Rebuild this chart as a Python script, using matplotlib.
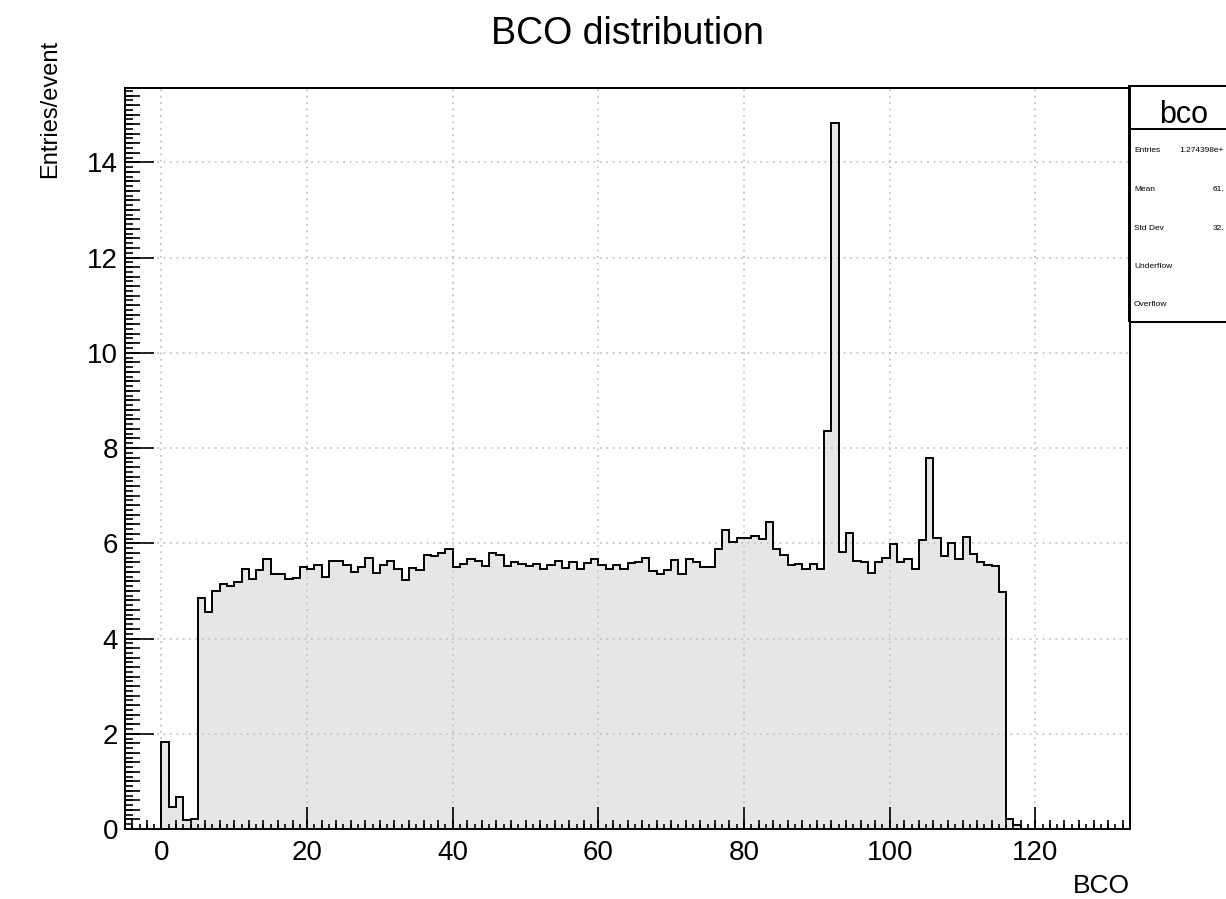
import numpy as np
import matplotlib
matplotlib.use("Agg")
import matplotlib.pyplot as plt
from matplotlib.patches import Rectangle
from matplotlib.lines import Line2D

plt.rcParams['font.family'] = ['Liberation Sans', 'DejaVu Sans']

# BCO histogram, one bin per BCO value (0..117)
bin_edges = np.arange(0, 119)
entries_per_event = [
    1.82, 0.47, 0.68, 0.19, 0.21, 4.85, 4.55, 4.99, 5.15, 5.10,
    5.19, 5.45, 5.26, 5.43, 5.68, 5.35, 5.35, 5.26, 5.28, 5.50,
    5.45, 5.55, 5.30, 5.62, 5.62, 5.55, 5.40, 5.50, 5.70, 5.38,
    5.55, 5.62, 5.45, 5.23, 5.49, 5.44, 5.76, 5.74, 5.79, 5.88,
    5.51, 5.56, 5.68, 5.62, 5.53, 5.79, 5.75, 5.53, 5.61, 5.56,
    5.52, 5.56, 5.45, 5.54, 5.63, 5.49, 5.60, 5.45, 5.58, 5.67,
    5.55, 5.47, 5.55, 5.45, 5.58, 5.60, 5.69, 5.41, 5.35, 5.43,
    5.65, 5.36, 5.66, 5.61, 5.50, 5.50, 5.87, 6.28, 6.03, 6.12,
    6.12, 6.15, 6.10, 6.45, 5.88, 5.75, 5.55, 5.57, 5.45, 5.56,
    5.45, 8.35, 14.82, 5.82, 6.21, 5.63, 5.61, 5.38, 5.60, 5.70,
    5.98, 5.60, 5.68, 5.46, 6.06, 7.79, 6.11, 5.74, 6.01, 5.68,
    6.14, 5.78, 5.61, 5.55, 5.53, 4.97, 0.22, 0.08,
]

x_ticks = [0, 20, 40, 60, 80, 100, 120]
y_ticks = [0, 2, 4, 6, 8, 10, 12, 14]

# stats box, only the part that fits on the canvas
stat_names = ["Entries", "Mean", "Std Dev", "Underflow", "Overflow"]
stat_values = ["1.274398e+", "61.", "32.", "", ""]

W, H = 1226, 899
fig = plt.figure(figsize=(W / 100, H / 100), dpi=100)
ax = fig.add_axes([125 / W, 1 - 829 / H, (1130 - 125) / W, (829 - 88) / H])

ax.stairs(entries_per_event, bin_edges, fill=True, color='#e6e6e6', zorder=1)
ax.stairs(entries_per_event, bin_edges, baseline=0, color='black', lw=1.4, zorder=3)

ax.set_xlim(-5, 133)
ax.set_ylim(0, 15.56)

ax.set_xticks(x_ticks)
ax.set_yticks(y_ticks)
ax.set_xticks(np.arange(-5, 134, 1), minor=True)
ax.set_yticks(np.arange(0, 15.56, 0.1), minor=True)
ax.tick_params(axis='both', which='both', direction='in', top=False, right=False,
               width=1.2, labelsize=20)
ax.tick_params(axis='x', which='major', length=16, pad=8)
ax.tick_params(axis='x', which='minor', length=3.5)
ax.tick_params(axis='y', which='major', length=21, pad=5)
ax.tick_params(axis='y', which='minor', length=5.5)

# medium-length ticks, like ROOT's secondary divisions
secx = ax.secondary_xaxis('bottom')
secx.set_xticks(np.arange(-4, 134, 2))
secx.tick_params(direction='in', length=6.5, width=1.2, labelbottom=False)
secx.spines['bottom'].set_visible(False)
secx.set_zorder(5)
secy = ax.secondary_yaxis('left')
secy.set_yticks(np.arange(0, 15.56, 0.2))
secy.tick_params(direction='in', length=10.5, width=1.2, labelleft=False)
secy.spines['left'].set_visible(False)
secy.set_zorder(5)

ax.grid(True, which='major', color='#bdbdbd', linestyle=(0, (1.2, 3)), lw=1.1)
ax.set_axisbelow(False)
for s in ax.spines.values():
    s.set_linewidth(1.4)
    s.set_zorder(4)

fig.text(0.512, 1 - 44 / H, 'BCO distribution', ha='center', va='baseline', fontsize=27)
fig.text(50 / W, 1 - 40 / H, 'Entries/event', rotation=90, ha='center', va='top', fontsize=17)
fig.text(1130 / W, 1 - 893 / H, 'BCO', ha='right', va='baseline', fontsize=19)

fig.add_artist(Rectangle((1129 / W, 1 - 322 / H), 0.2, (322 - 86) / H,
                         transform=fig.transFigure, fill=False, lw=1.4, ec='black'))
fig.add_artist(Line2D([1129 / W, 1.0], [1 - 129 / H] * 2, transform=fig.transFigure,
                      lw=1.4, color='black'))
fig.text(1184 / W, 1 - 123 / H, 'bco', ha='center', va='baseline', fontsize=22)
stat_y = [152, 191, 230, 268, 306]
for name, val, yy in zip(stat_names, stat_values, stat_y):
    fig.text(1134 / W, 1 - yy / H, name, ha='left', va='baseline', fontsize=6)
    if val:
        fig.text(1224 / W, 1 - yy / H, val, ha='right', va='baseline', fontsize=6)

fig.savefig('out.png', dpi=100)
